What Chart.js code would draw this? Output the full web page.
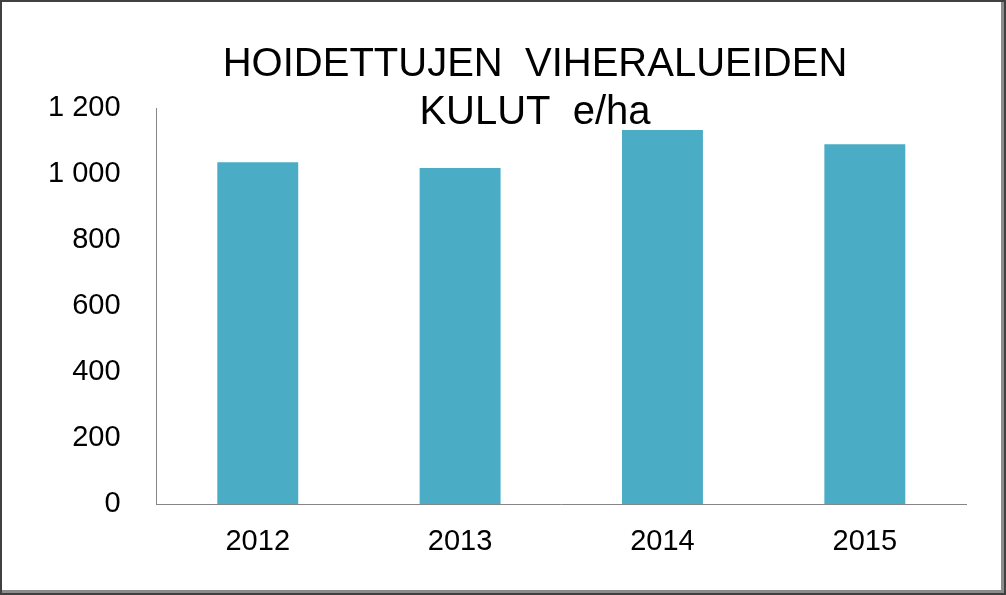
<!DOCTYPE html>
<html>
<head>
<meta charset="utf-8">
<script src="https://cdn.jsdelivr.net/npm/chart.js@4"></script>
<style>
  body { margin: 0; background: #fff; }
  #wrap { position: relative; width: 1006px; height: 595px; box-sizing: border-box;
          border: 2px solid #404040; box-shadow: inset -3px -3px 0 #8c8c8c; }
  #title { position: absolute; left: 0; width: 1066px; top: 36px; text-align: center;
           font-family: "Liberation Sans", Arial, sans-serif; font-size: 40px; line-height: 48px; color: #000; }
</style>
</head>
<body>
<div id="wrap">
  <canvas id="chart" width="1002" height="591"></canvas>
  <div id="title">HOIDETTUJEN&nbsp; VIHERALUEIDEN<br>KULUT&nbsp; e/ha</div>
</div>
<script>
// data
var years = ["2012", "2013", "2014", "2015"];
var costs = [1036, 1018, 1133, 1090];

var ctx = document.getElementById("chart").getContext("2d");
var myChart = new Chart(ctx, {
    type: "bar",
    data: {
        labels: years,
        datasets: [{
            data: costs,
            backgroundColor: "#4bacc6",
            barPercentage: 0.4,
            categoryPercentage: 1
        }]
    },
    options: {
        responsive: false,
        animation: false,
        layout: { padding: { left: 18, right: 38, top: 106, bottom: 22 } },
        plugins: { legend: { display: false }, tooltip: { enabled: false } },
        scales: {
            x: {
                grid: { display: false },
                border: { color: "#868686" },
                ticks: { color: "#000", font: { family: "Liberation Sans", size: 29 }, padding: 12 }
            },
            y: {
                min: 0, max: 1200,
                grid: { display: false },
                border: { color: "#868686" },
                ticks: {
                    stepSize: 200, color: "#000", padding: 28,
                    font: { family: "Liberation Sans", size: 29 },
                    callback: function (v) { return String(v).replace(/\B(?=(\d{3})+(?!\d))/g, " "); }
                }
            }
        }
    }
});
</script>
</body>
</html>
